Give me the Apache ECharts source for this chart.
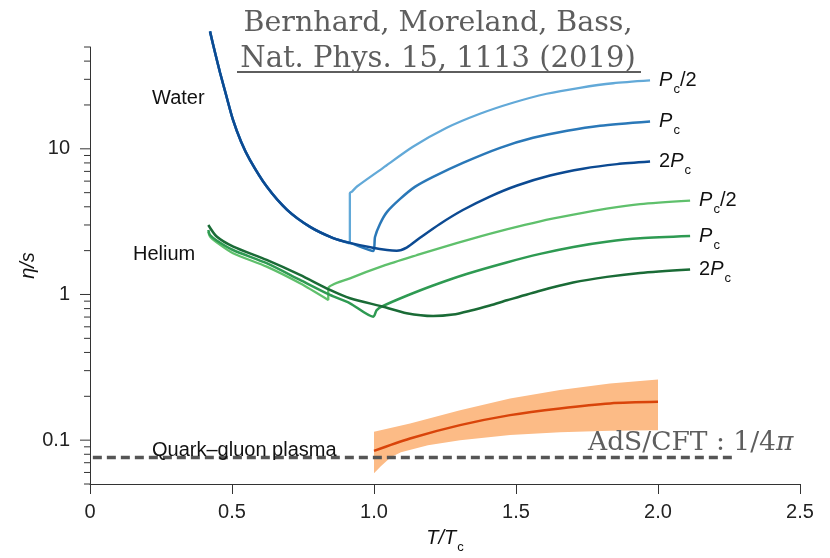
<!DOCTYPE html>
<html><head><meta charset="utf-8">
<script src="https://cdn.jsdelivr.net/npm/echarts@6/dist/echarts.min.js"></script>
<style>html,body{margin:0;padding:0;background:#fff}#c{width:830px;height:558px}</style>
</head><body><div id="c"></div>
<script>
// ---- axes ----
const xTicks = [0, 0.5, 1.0, 1.5, 2.0, 2.5];
const xTickLabels = ['0', '0.5', '1.0', '1.5', '2.0', '2.5'];
const yMajor = [0.1, 1, 10];
const yMajorLabels = ['0.1', '1', '10'];
const yMinor = [0.05,0.06,0.07,0.08,0.09,0.2,0.3,0.4,0.5,0.6,0.7,0.8,0.9,2,3,4,5,6,7,8,9,20,30,40,50];

// ---- water (T/Tc, eta/s) ----
const waterHalfT = [0.4225,0.440,0.458,0.479,0.5035,0.532,0.563,0.623,0.694,0.775,0.856,0.915,0.915,0.9225,0.940,1.032,1.137,1.256,1.373,1.489,1.608,1.725,1.842,1.972];
const waterHalfEta = [64.0,46.0,33.3,23.5,15.8,11.2,8.40,5.48,3.81,2.91,2.44,2.24,4.96,5.09,5.51,7.40,10.32,13.94,17.40,20.71,23.88,26.25,28.19,29.47];
const waterPcT = [0.4225,0.440,0.458,0.479,0.5035,0.532,0.563,0.623,0.694,0.775,0.856,0.915,0.9975,1.0035,1.021,1.046,1.092,1.144,1.208,1.313,1.444,1.560,1.680,1.796,1.972];
const waterPcEta = [64.0,46.0,33.3,23.5,15.8,11.2,8.40,5.48,3.81,2.91,2.44,2.26,1.99,2.48,3.05,3.69,4.53,5.48,6.42,8.01,10.16,11.90,13.30,14.39,15.41];
const water2PcT = [0.4225,0.440,0.458,0.479,0.5035,0.532,0.563,0.623,0.694,0.775,0.856,0.915,0.996,1.046,1.080,1.115,1.162,1.232,1.313,1.408,1.504,1.620,1.736,1.856,1.972];
const water2PcEta = [64.0,46.0,33.3,23.5,15.8,11.2,8.40,5.48,3.81,2.91,2.44,2.26,2.09,2.02,2.00,2.10,2.45,3.05,3.80,4.70,5.60,6.55,7.30,7.85,8.18];

// ---- helium ----
const heliumHalfT = [0.4165,0.4225,0.446,0.5035,0.622,0.7394,0.839,0.839,0.9155,1.032,1.150,1.232,1.350,1.467,1.585,1.702,1.819,1.937,2.113];
const heliumHalfEta = [2.70,2.50,2.28,1.92,1.553,1.194,0.917,1.103,1.29,1.57,1.86,2.08,2.43,2.80,3.18,3.53,3.88,4.17,4.41];
const heliumPcT = [0.4165,0.4225,0.446,0.5035,0.622,0.7394,0.845,0.9155,0.9975,1.0095,1.032,1.115,1.208,1.326,1.467,1.585,1.702,1.819,1.937,2.113];
const heliumPcEta = [2.77,2.56,2.35,2.02,1.639,1.258,0.992,0.870,0.704,0.782,0.834,0.98,1.153,1.383,1.66,1.90,2.12,2.30,2.43,2.52];
const helium2PcT = [0.4165,0.446,0.5046,0.622,0.7394,0.845,0.9155,1.032,1.115,1.208,1.278,1.338,1.408,1.468,1.585,1.701,1.820,1.937,2.113];
const helium2PcEta = [3.00,2.50,2.13,1.726,1.362,1.074,0.942,0.824,0.743,0.711,0.728,0.773,0.841,0.912,1.062,1.208,1.321,1.406,1.486];

// ---- quark-gluon plasma ----
const qgpT = [1.0,1.127,1.303,1.479,1.655,1.831,2.0];
const qgpMid = [0.0844,0.1027,0.1268,0.1485,0.1652,0.1788,0.1833];
const qgpUpper = [0.114,0.130,0.1607,0.1935,0.2206,0.2453,0.2613];
const qgpLowerT = [1.0,1.024,1.059,1.095,1.190,1.303,1.479,1.655,1.831,2.0];
const qgpLower = [0.0593,0.0663,0.0764,0.0827,0.0924,0.1,0.1083,0.1135,0.1162,0.1171];

// ---- AdS/CFT bound line ----
const adsT = [0.01, 2.26];
const adsEta = [0.076, 0.076];

const zip = (a, b) => a.map((v, i) => [v, b[i]]);
const SANS = '"Liberation Sans", Arial, Helvetica, sans-serif';
const SERIF = '"DejaVu Serif", serif';

const labelRich = {
  p: {fontFamily: SANS, fontStyle: 'italic', fontSize: 20, lineHeight: 20, color: '#111'},
  n: {fontFamily: SANS, fontSize: 20, lineHeight: 20, color: '#111'},
  s: {fontFamily: SANS, fontSize: 13, lineHeight: 13, padding: [18, 0, 0, 1], color: '#111'}
};
function curve(name, t, eta, color, width, label) {
  return {
    type: 'line', name: name, data: zip(t, eta), showSymbol: false, clip: false,
    smooth: 0.25,
    lineStyle: {color: color, width: width}, itemStyle: {color: color},
    z: 3,
    endLabel: {show: true, formatter: label, distance: 9, rich: labelRich}
  };
}

const chart = echarts.init(document.getElementById('c'), null, {renderer: 'canvas'});
chart.setOption({
  animation: false,
  backgroundColor: '#fff',
  textStyle: {fontFamily: SANS},
  grid: {left: 90, right: 30, top: 47, bottom: 74, containLabel: false, outerBoundsMode: 'none'},
  xAxis: {
    type: 'value', min: 0, max: 2.5, interval: 0.5,
    axisLine: {lineStyle: {color: '#333', width: 1}},
    axisTick: {length: 10, lineStyle: {color: '#333'}},
    splitLine: {show: false},
    axisLabel: {
      fontSize: 20, color: '#222', margin: 18, fontFamily: SANS,
      formatter: v => { const i = xTicks.findIndex(t => Math.abs(t - v) < 1e-9); return i >= 0 ? xTickLabels[i] : ''; }
    },
    name: '{i|T/T}{s|c}', nameLocation: 'middle', nameGap: 44, nameMoveOverlap: false,
    nameTextStyle: {rich: {
      i: {fontFamily: SANS, fontStyle: 'italic', fontSize: 20, lineHeight: 20, color: '#111'},
      s: {fontFamily: SANS, fontSize: 13, lineHeight: 13, padding: [18, 0, 0, 1], color: '#111'}
    }}
  },
  yAxis: {
    type: 'log', logBase: 10, min: 0.05, max: 50,
    axisLine: {show: true, lineStyle: {color: '#333', width: 1}},
    axisTick: {show: false},
    minorTick: {show: false},
    splitLine: {show: false},
    axisLabel: {
      fontSize: 20, color: '#222', margin: 20, fontFamily: SANS,
      formatter: v => { const i = yMajor.findIndex(t => Math.abs(t - v) / t < 1e-6); return i >= 0 ? yMajorLabels[i] : ''; }
    },
    name: 'η/s', nameLocation: 'middle', nameGap: 52, nameRotate: 90, nameMoveOverlap: false,
    nameTextStyle: {fontFamily: SANS, fontStyle: 'italic', fontSize: 20, color: '#111'}
  },
  series: [
    {
      type: 'custom', name: 'QGP band', clip: false, silent: true, z: 1,
      data: [[1.5, 0.1]], encode: {x: 0, y: 1},
      renderItem: (params, api) => {
        const pts = [];
        for (let i = 0; i < qgpT.length; i++) pts.push(api.coord([qgpT[i], qgpUpper[i]]));
        for (let i = qgpLowerT.length - 1; i >= 0; i--) pts.push(api.coord([qgpLowerT[i], qgpLower[i]]));
        return {type: 'polygon', shape: {points: pts}, style: {fill: '#fcbb86'}};
      }
    },
    {
      type: 'line', name: 'AdS/CFT', data: zip(adsT, adsEta), showSymbol: false, z: 2,
      lineStyle: {color: '#555', width: 3.5, type: [9, 5]}
    },
    {
      type: 'line', name: 'QGP', data: zip(qgpT, qgpMid), showSymbol: false, z: 3,
      lineStyle: {color: '#d9440a', width: 2.5}, smooth: 0.3
    },
    curve('Water Pc/2', waterHalfT, waterHalfEta, '#62a9d8', 2.3, '{p|P}{s|c}{n|/2}'),
    curve('Water Pc', waterPcT, waterPcEta, '#2a78b8', 2.5, '{p|P}{s|c}'),
    curve('Water 2Pc', water2PcT, water2PcEta, '#0c4a92', 2.5, '{n|2}{p|P}{s|c}'),
    curve('Helium Pc/2', heliumHalfT, heliumHalfEta, '#5fc06c', 2.3, '{p|P}{s|c}{n|/2}'),
    curve('Helium Pc', heliumPcT, heliumPcEta, '#2e9a52', 2.5, '{p|P}{s|c}'),
    curve('Helium 2Pc', helium2PcT, helium2PcEta, '#1a6b36', 2.5, '{n|2}{p|P}{s|c}'),
    {
      type: 'custom', name: 'yticks', clip: false, silent: true, z: 5,
      data: yMajor.map(v => [0, v, 1]).concat(yMinor.map(v => [0, v, 0])),
      encode: {x: 0, y: 1},
      renderItem: (params, api) => {
        const p = api.coord([api.value(0), api.value(1)]);
        const len = api.value(2) ? 10 : 6;
        return {type: 'line', shape: {x1: p[0] - len, y1: p[1], x2: p[0], y2: p[1]}, style: {stroke: '#333', lineWidth: 1}};
      }
    }
  ],
  graphic: [
    {type: 'text', z: 100, x: 438, y: 24, style: {text: 'Bernhard, Moreland, Bass,', font: '28.5px ' + SERIF, fill: '#5e5e5e', textAlign: 'center', textVerticalAlign: 'middle'}},
    {type: 'text', z: 100, x: 438, y: 59.5, style: {text: 'Nat. Phys. 15, 1113 (2019)', font: '29px ' + SERIF, fill: '#5e5e5e', textAlign: 'center', textVerticalAlign: 'middle'}},
    {type: 'line', z: 100, shape: {x1: 237, y1: 72, x2: 641, y2: 72}, style: {stroke: '#5e5e5e', lineWidth: 2}},
    {type: 'text', z: 100, x: 152, y: 98, style: {text: 'Water', font: '20px ' + SANS, fill: '#111', textVerticalAlign: 'middle'}},
    {type: 'text', z: 100, x: 133, y: 254, style: {text: 'Helium', font: '20px ' + SANS, fill: '#111', textVerticalAlign: 'middle'}},
    {type: 'text', z: 100, x: 152, y: 450, style: {text: 'Quark–gluon plasma', font: '20px ' + SANS, fill: '#111', textVerticalAlign: 'middle'}},
    {type: 'text', z: 100, x: 588, y: 443, style: {
      text: '{a|AdS/CFT : 1/4}{b|π}', textVerticalAlign: 'middle',
      rich: {a: {font: '26.5px ' + SERIF, fill: '#5e5e5e'}, b: {font: 'italic 26.5px ' + SERIF, fill: '#5e5e5e'}}
    }}
  ]
});
</script>
</body></html>
